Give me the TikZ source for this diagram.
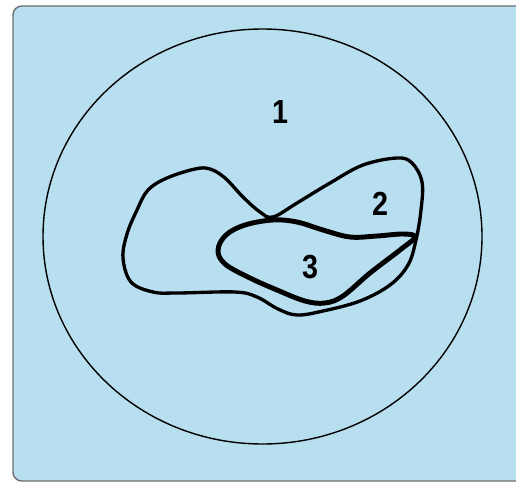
\documentclass[tikz,border=0pt]{standalone}
\usepackage{fontspec}
\setmainfont{Liberation Sans}
\newfontfamily\numfont{Liberation Sans}[FakeStretch=0.86]
\usepackage{tikz}
\usetikzlibrary{calc, positioning}

\definecolor{paneblue}{RGB}{184,223,240}
\definecolor{panegray}{RGB}{110,110,110}

\begin{document}
\begin{tikzpicture}[
    x=0.02cm, y=-0.02cm,
    pane/.style={
        fill=paneblue,
        draw=panegray,
        line width=0.8pt,
        rounded corners=5pt
    },
    ring/.style={
        draw=black,
        line width=0.8pt
    },
    zonetwo/.style={
        draw=black,
        line width=1.9pt,
        line join=round
    },
    zonethree/.style={
        draw=black,
        line width=2.8pt,
        line join=round
    },
    num/.style={
        font=\numfont\fontsize{19}{19}\selectfont\bfseries,
        inner sep=0pt
    }
]

    % =======================================================
    % Frame
    % =======================================================
    \useasboundingbox (0,0) rectangle (516,483);
    \begin{scope}
        \clip (0,0) rectangle (516,483);
        \draw[pane] (13,6) rectangle (530,481);
    \end{scope}

    % =======================================================
    % Outer circle (region 1)
    % =======================================================
    \coordinate (centre) at (262.5,236.5);
    \draw[ring] (centre) ellipse [x radius=219.5, y radius=207.5];

    % =======================================================
    % Region 2 (two-lobed outline)
    % =======================================================
    \draw[zonetwo] plot[smooth cycle, tension=0.6] coordinates {
        (273,217) (297,203) (330,183) (363,165) (397,158) (412,163)
        (422,182) (421,210) (416,240) (408,265) (390,285) (360,301)
        (323,311) (297,315) (278,309) (257,297) (235,292) (177,293)
        (153,292) (131,282) (123,258) (127,234) (137,210) (148,190)
        (167,178) (195,169) (210,169) (225,178) (243,197) (260,212)
    };

    % =======================================================
    % Region 3 (inner outline)
    % =======================================================
    \draw[zonethree] plot[smooth cycle, tension=0.6] coordinates {
        (273,220) (297,222) (323,230) (350,237) (377,236) (403,234)
        (415,237) (400,250) (370,273) (343,296) (325,303) (305,301)
        (277,290) (250,278) (225,264) (218,250) (226,235) (245,225)
    };

    % Labels
    \node[num] (label1) at (280,112) {1};
    \node[num] (label2) at (380,204) {2};
    \node[num] (label3) at (310,267) {3};

\end{tikzpicture}
\end{document}
